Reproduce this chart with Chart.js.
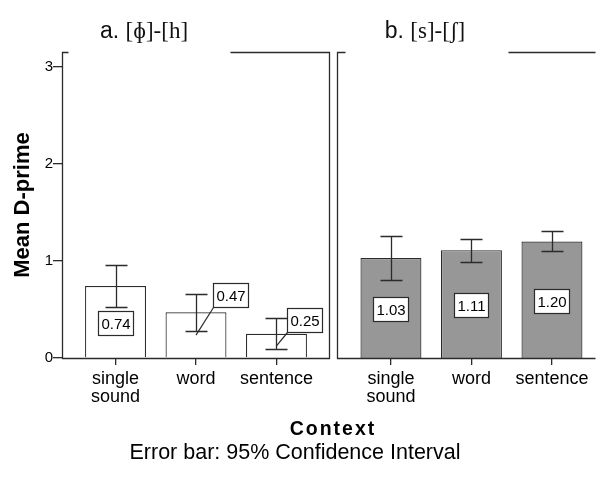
<!DOCTYPE html>
<html>
<head>
<meta charset="utf-8">
<script src="https://cdn.jsdelivr.net/npm/chart.js@4.4.1/dist/chart.umd.min.js"></script>
<style>
  html, body { margin: 0; padding: 0; background: #fff; overflow: hidden; }
  #page { position: relative; width: 596px; height: 481px; font-family: 'Liberation Sans', Arial, sans-serif; color: #000; }
  canvas { position: absolute; top: 0; }
  .panelTitle { position: absolute; top: 19px; font-size: 23px; line-height: 1; white-space: nowrap; transform: translateX(-50%); color: #111; }
  .ipa { font-family: 'Liberation Serif', 'DejaVu Serif', serif; }
  #xTitle { position: absolute; left: 333px; top: 419px; transform: translateX(-50%); font-size: 19.5px; font-weight: bold; letter-spacing: 2px; line-height: 1; white-space: nowrap; }
  #caption { position: absolute; left: 295px; top: 442px; transform: translateX(-50%); font-size: 21.5px; line-height: 1; white-space: nowrap; }
</style>
</head>
<body>
<div id="page">
  <canvas id="leftChart" width="334" height="420" style="left:0px"></canvas>
  <canvas id="rightChart" width="262" height="420" style="left:334px"></canvas>
  <div class="panelTitle" style="left:144px">a. <span class="ipa">[ɸ]-[h]</span></div>
  <div class="panelTitle" style="left:425px">b. <span class="ipa">[s]-[ʃ]</span></div>
  <div id="xTitle">Context</div>
  <div id="caption">Error bar: 95% Confidence Interval</div>
</div>
<script>
Chart.defaults.font.family = "'Liberation Sans', Arial, sans-serif";
Chart.defaults.color = '#000';

// Data
const categories = [['single', 'sound'], 'word', 'sentence'];
const yTicks = [0, 1, 2, 3];

// a. [ɸ]-[h]
const phMeans = [0.74, 0.47, 0.25];
const phLow = [0.52, 0.28, 0.09];
const phHigh = [0.955, 0.66, 0.41];

// b. [s]-[ʃ]
const shMeans = [1.03, 1.11, 1.20];
const shLow = [0.80, 0.99, 1.10];
const shHigh = [1.255, 1.225, 1.305];

const lineColor = '#2b2b2b';

// frame round the plot area, with a gap in the top line for the panel title
const framePlugin = {
    id: 'frame',
    afterDatasetsDraw(chart, args, o) {
        const ctx = chart.ctx;
        const a = chart.chartArea;
        const L = Math.round(a.left) + 0.5, R = Math.round(a.right) - 0.5;
        const T = Math.round(a.top) + 0.5, B = Math.round(a.bottom) + 0.5;
        ctx.save();
        ctx.strokeStyle = lineColor;
        ctx.lineWidth = 1.3;
        ctx.beginPath();
        ctx.moveTo(L + o.gap[0], T);
        ctx.lineTo(L, T);
        ctx.lineTo(L, B);
        ctx.lineTo(R, B);
        if (o.right) ctx.lineTo(R, T);
        else ctx.moveTo(R, T);
        ctx.lineTo(L + o.gap[1], T);
        ctx.stroke();
        ctx.restore();
    }
};

// error bars and the boxed value labels
const errorLabelPlugin = {
    id: 'errorLabels',
    afterDatasetsDraw(chart, args, o) {
        const ctx = chart.ctx;
        const y = chart.scales.y;
        const bars = chart.getDatasetMeta(0).data;
        ctx.save();
        ctx.strokeStyle = lineColor;
        ctx.lineWidth = 1.3;
        bars.forEach((bar, i) => {
            const yl = y.getPixelForValue(o.low[i]);
            const yh = y.getPixelForValue(o.high[i]);
            const x = Math.round(bar.x) + 0.5;
            ctx.beginPath();
            ctx.moveTo(x, yl); ctx.lineTo(x, yh);
            ctx.moveTo(x - 11, Math.round(yl) + 0.5); ctx.lineTo(x + 11, Math.round(yl) + 0.5);
            ctx.moveTo(x - 11, Math.round(yh) + 0.5); ctx.lineTo(x + 11, Math.round(yh) + 0.5);
            ctx.stroke();
        });
        ctx.font = "15px 'Liberation Sans', Arial, sans-serif";
        ctx.textAlign = 'center';
        ctx.textBaseline = 'middle';
        bars.forEach((bar, i) => {
            const v = o.means[i];
            const ax = bar.x;
            const ay = y.getPixelForValue(v / 2);
            const off = o.offsets[i];
            const txt = v.toFixed(2);
            const w = Math.round(ctx.measureText(txt).width + 6);
            const h = 24;
            const cx = ax + off[0], cy = ay + off[1] + 1;
            const bx = Math.round(cx - w / 2) + 0.5, by = Math.round(cy - h / 2) + 0.5;
            if (off[0] !== 0 || off[1] !== 0) {
                ctx.beginPath();
                ctx.moveTo(ax, ay);
                ctx.lineTo(bx, by + h);
                ctx.lineWidth = 1.2;
                ctx.stroke();
            }
            ctx.fillStyle = '#fff';
            ctx.fillRect(bx, by, w, h);
            ctx.lineWidth = 1.2;
            ctx.strokeRect(bx, by, w, h);
            ctx.fillStyle = '#000';
            ctx.fillText(txt, bx + w / 2, by + h / 2 + 1);
        });
        ctx.restore();
    }
};

function makePanel(id, means, low, high, fill, xMin, xMax, showY, padLeft, padRight, gap, offsets) {
    return new Chart(document.getElementById(id), {
        type: 'bar',
        data: {
            datasets: [{
                data: means.map((v, i) => ({ x: i, y: v })),
                backgroundColor: fill,
                borderColor: lineColor,
                borderWidth: 1.2,
                categoryPercentage: 1,
                barPercentage: 0.757
            }]
        },
        options: {
            responsive: false,
            animation: false,
            events: [],
            layout: { padding: { top: 52, left: padLeft, right: padRight, bottom: 0 } },
            scales: {
                x: {
                    type: 'linear',
                    offset: false,
                    min: xMin,
                    max: xMax,
                    afterBuildTicks: s => { s.ticks = categories.map((c, i) => ({ value: i })); },
                    afterFit: s => { s.height = 62; },
                    border: { display: false },
                    grid: { offset: false, drawOnChartArea: false, tickLength: 7, color: lineColor, lineWidth: 1.3 },
                    ticks: {
                        autoSkip: false,
                        maxRotation: 0,
                        padding: 5,
                        color: '#000',
                        font: { size: 18, lineHeight: 1.0 },
                        callback: v => categories[v]
                    }
                },
                y: {
                    display: showY,
                    min: 0,
                    max: 3.15,
                    afterBuildTicks: s => { s.ticks = yTicks.map(v => ({ value: v })); },
                    afterFit: s => { s.width = showY ? 62 : 0; },
                    border: { display: false },
                    grid: { drawOnChartArea: false, tickLength: 9, color: lineColor, lineWidth: 1.3 },
                    ticks: { padding: 0, color: '#000', font: { size: 15 } },
                    title: {
                        display: showY,
                        text: 'Mean D-prime',
                        color: '#000',
                        font: { size: 22, weight: 'bold' },
                        padding: { top: 10, bottom: 0 }
                    }
                }
            },
            plugins: {
                legend: { display: false },
                tooltip: { enabled: false },
                frame: { gap: gap, right: padRight > 0 },
                errorLabels: { means: means, low: low, high: high, offsets: offsets }
            }
        },
        plugins: [framePlugin, errorLabelPlugin]
    });
}

makePanel('leftChart', phMeans, phLow, phHigh, '#ffffff', -0.665, 2.665, true, 0, 4,
    [6, 168], [[0, 0], [34, -41], [28, -27]]);
makePanel('rightChart', shMeans, shLow, shHigh, '#979797', -0.67, 2.547, false, 3, 0,
    [8, 171], [[0, 0], [0, 0], [0, 0]]);
</script>
</body>
</html>
